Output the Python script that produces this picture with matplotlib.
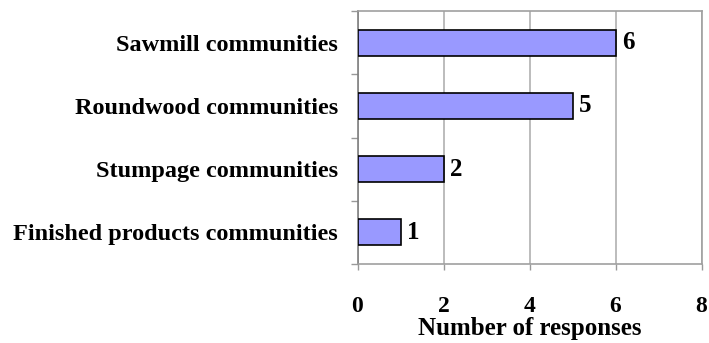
import matplotlib
matplotlib.use("Agg")
import matplotlib.pyplot as plt
import numpy as np

categories = ["Sawmill communities", "Roundwood communities",
              "Stumpage communities", "Finished products communities"]
responses = [6, 5, 2, 1]
x_ticks = [0, 2, 4, 6, 8]

plt.rcParams["font.family"] = ["Liberation Serif", "DejaVu Serif"]
plt.rcParams["font.weight"] = "bold"

fig = plt.figure(figsize=(7.09, 3.43), dpi=100)
ax = fig.add_axes([357.5 / 709, 1 - 264 / 343, (701.5 - 357.5) / 709, (264 - 11) / 343])

n = len(categories)
ypos = np.arange(n)[::-1]  # first category on top
ax.barh(ypos, responses, height=0.41, color="#9999FF", edgecolor="black",
        linewidth=1.2, zorder=3)
for y, v in zip(ypos, responses):
    ax.text(v + 0.15, y, str(v), va="center", ha="left", fontsize=18,
            fontweight="bold", zorder=4)

ax.set_xlim(0, 8)
ax.set_ylim(-0.5, n - 0.5)
ax.set_xticks(x_ticks)
ax.set_xticklabels([str(t) for t in x_ticks], fontsize=17, fontweight="bold")
ax.set_yticks(ypos)
ax.set_yticklabels(categories, fontsize=17.5, fontweight="bold")
ax.tick_params(axis="y", length=0, pad=14)
ax.set_yticks(np.arange(-0.5, n, 1.0), minor=True)
ax.tick_params(axis="y", which="minor", length=5, color="#999999", width=1)
ax.tick_params(axis="x", length=4, color="#999999", width=1, pad=19)

ax.xaxis.grid(True, color="#b0b0b0", linewidth=1.2, zorder=0)
ax.set_axisbelow(True)
for side in ["top", "right", "bottom"]:
    ax.spines[side].set_color("#a0a0a0")
    ax.spines[side].set_linewidth(1.2)
ax.spines["left"].set_color("#808080")
ax.spines["left"].set_linewidth(1.2)

ax.set_xlabel("Number of responses", fontsize=18, fontweight="bold", labelpad=0)

fig.savefig("out.png", dpi=100)
